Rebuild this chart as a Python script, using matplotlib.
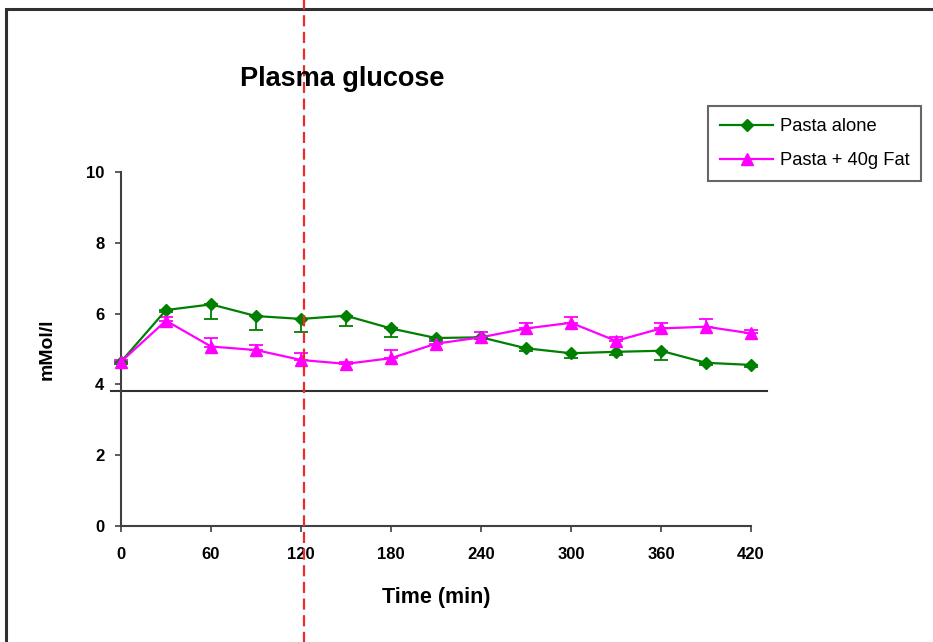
import numpy as np
import matplotlib
matplotlib.use("Agg")
import matplotlib.pyplot as plt
from matplotlib.patches import Rectangle
from matplotlib.lines import Line2D

plt.rcParams['font.family'] = ['Liberation Sans', 'DejaVu Sans']

# Data
time_min = [0, 30, 60, 90, 120, 150, 180, 210, 240, 270, 300, 330, 360, 390, 420]
pasta_alone = [4.64, 6.10, 6.26, 5.93, 5.85, 5.94, 5.58, 5.31, 5.33, 5.02, 4.88, 4.92, 4.95, 4.61, 4.55]
pasta_alone_err = [0.05, 0.05, 0.40, 0.40, 0.37, 0.28, 0.24, 0.08, 0.05, 0.08, 0.13, 0.08, 0.26, 0.06, 0.06]
pasta_fat = [4.64, 5.80, 5.07, 4.97, 4.69, 4.58, 4.74, 5.15, 5.33, 5.58, 5.74, 5.23, 5.58, 5.63, 5.44]
pasta_fat_err = [0.05, 0.10, 0.23, 0.14, 0.20, 0.06, 0.23, 0.10, 0.16, 0.16, 0.17, 0.10, 0.16, 0.23, 0.11]
x_ticks = [0, 60, 120, 180, 240, 300, 360, 420]
y_ticks = [0, 2, 4, 6, 8, 10]
baseline_y = 3.81
marker_x = 122

green = '#008000'
pink = '#ff00ff'

fig = plt.figure(figsize=(9.33, 6.42), dpi=100)
ax = fig.add_axes([0.1297, 0.1807, 0.6752, 0.5514])

zeros = [0] * len(time_min)
for vals, err, col, mk, ms in [(pasta_alone, [pasta_alone_err, zeros], green, 'D', 6.5),
                               (pasta_fat, [zeros, pasta_fat_err], pink, '^', 8.5)]:
    cont = ax.errorbar(time_min, vals, yerr=err, color=col, marker=mk, markersize=ms,
                       linewidth=1.6, capsize=5, elinewidth=1.3, capthick=1.3, zorder=3)
    for art in [cont.lines[0]] + list(cont.lines[1]) + list(cont.lines[2]):
        art.set_clip_on(False)

ax.set_xlim(0, 420)
ax.set_ylim(0, 10)
ax.set_xticks(x_ticks)
ax.set_yticks(y_ticks)
for s in ['top', 'right']:
    ax.spines[s].set_visible(False)
for s in ['left', 'bottom']:
    ax.spines[s].set_color('#404040')
    ax.spines[s].set_linewidth(1.5)
ax.tick_params(direction='out', length=4, width=1.2, color='#404040',
               labelsize=12, pad=8)
ax.tick_params(axis='x', pad=11)
for lbl in ax.get_xticklabels() + ax.get_yticklabels():
    lbl.set_fontweight('bold')

ax.set_xlabel('Time (min)', fontsize=15.5, fontweight='bold', labelpad=18)
ax.set_ylabel('mMol/l', fontsize=14, fontweight='bold', labelpad=22)

# black horizontal line across the plot
ax.plot([-7, 431], [baseline_y, baseline_y], color='#303030', linewidth=1.5,
        clip_on=False, zorder=2)

# red dashed vertical marker
ax.axvline(marker_x, ymin=-0.35, ymax=1.55, color='#f02828', linestyle=(0, (5, 2.5)),
           linewidth=1.6, clip_on=False, zorder=4)

fig.text(342 / 933, 1 - 79 / 642, 'Plasma glucose', fontsize=19.5,
         fontweight='bold', ha='center', va='center')

handles = [Line2D([], [], color=green, marker='D', markersize=6.5, linewidth=1.6),
           Line2D([], [], color=pink, marker='^', markersize=8.5, linewidth=1.6)]
leg = fig.legend(handles, ['Pasta alone', 'Pasta + 40g Fat'], loc='upper left',
                 bbox_to_anchor=(708 / 933, 1 - 106 / 642),
                 fontsize=13.2, frameon=True, fancybox=False, handlelength=2.9,
                 borderpad=0.65, labelspacing=0.95, handletextpad=0.35,
                 borderaxespad=0)
leg.get_frame().set_edgecolor('#404040')
leg.get_frame().set_linewidth(1.5)

# outer frame
fig.add_artist(Rectangle((6 / 933, -0.1), 1.2, 1.1 - 9 / 642, transform=fig.transFigure,
                         fill=False, edgecolor='#303030', linewidth=2.2, zorder=0))

fig.savefig('out.png', dpi=100)
